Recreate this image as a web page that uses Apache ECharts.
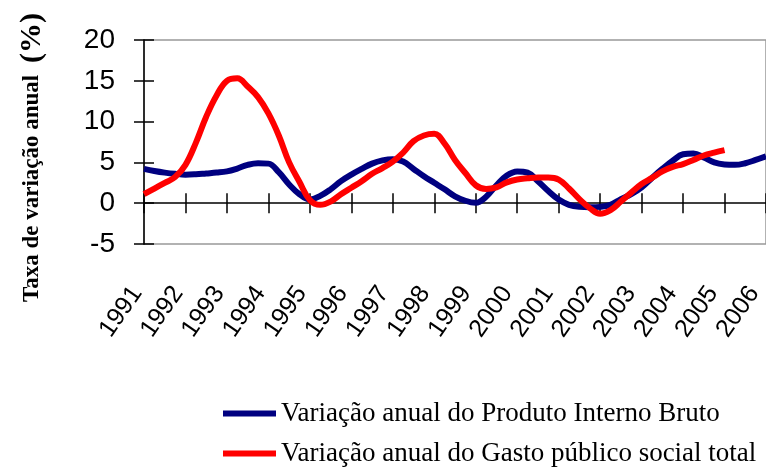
<!DOCTYPE html>
<html>
<head>
<meta charset="utf-8">
<script src="https://cdn.jsdelivr.net/npm/echarts@6/dist/echarts.min.js"></script>
<style>
  html, body { margin: 0; padding: 0; background: #fff; }
  #chart { width: 766px; height: 467px; }
</style>
</head>
<body>
<div id="chart"></div>
<script>
// períodos trimestrais (ano + fração)
const periodos = [
  1991.00, 1991.25, 1991.50, 1991.75, 1992.00, 1992.25, 1992.50, 1992.75,
  1993.00, 1993.25, 1993.50, 1993.75, 1994.00, 1994.25, 1994.50, 1994.75,
  1995.00, 1995.25, 1995.50, 1995.75, 1996.00, 1996.25, 1996.50, 1996.75,
  1997.00, 1997.25, 1997.50, 1997.75, 1998.00, 1998.25, 1998.50, 1998.75,
  1999.00, 1999.25, 1999.50, 1999.75, 2000.00, 2000.25, 2000.50, 2000.75,
  2001.00, 2001.25, 2001.50, 2001.75, 2002.00, 2002.25, 2002.50, 2002.75,
  2003.00, 2003.25, 2003.50, 2003.75, 2004.00, 2004.25, 2004.50, 2004.75,
  2005.00, 2005.25, 2005.50, 2005.75, 2006.00,
]

// Variação anual do PIB
const pib = [
  4.2, 3.95, 3.75, 3.6, 3.5, 3.55, 3.65, 3.75,
  3.9, 4.25, 4.7, 4.9, 4.85, 3.8, 2.3, 1.1,
  0.45, 0.9, 1.7, 2.7, 3.5, 4.2, 4.85, 5.25,
  5.4, 5.1, 4.2, 3.3, 2.5, 1.7, 0.85, 0.3,
  0.05, 0.8, 2.2, 3.4, 3.9, 3.75, 2.7, 1.5,
  0.45, -0.2, -0.45, -0.5, -0.45, -0.2, 0.5, 1.1,
  1.95, 3.1, 4.2, 5.2, 6.0, 6.1, 5.6, 5.0,
  4.75, 4.7, 4.9, 5.3, 5.75,
]

// Variação anual do gasto público social (termina em 2005)
const gasto = [
  1.1, 1.8, 2.5, 3.2, 4.7, 7.4, 10.6, 13.2,
  15.0, 15.3, 14.3, 13.0, 11.0, 8.3, 5.0, 2.6,
  0.4, -0.2, 0.2, 1.1, 1.9, 2.7, 3.6, 4.3,
  5.1, 6.2, 7.6, 8.3, 8.5, 7.3, 5.3, 3.7,
  2.2, 1.75, 1.95, 2.55, 2.9, 3.05, 3.15, 3.15,
  2.9, 1.8, 0.5, -0.6, -1.3, -0.85, 0.2, 1.3,
  2.35, 3.1, 3.9, 4.45, 4.8, 5.3, 5.85, 6.2,
  6.5,
]

const anos = ['1991', '1992', '1993', '1994', '1995', '1996', '1997', '1998',
  '1999', '2000', '2001', '2002', '2003', '2004', '2005', '2006']

const nomes = ['Variação anual do Produto Interno Bruto', 'Variação anual do Gasto público social total']

const toPairs = vals => vals.map((v, i) => [periodos[i], v])

const chart = echarts.init(document.getElementById('chart'), null, { renderer: 'canvas' })

const tickStyle = { color: '#000', width: 1.5 }

// uma legenda por linha, para não quebrar em colunas
const legendBase = {
  orient: 'vertical',
  left: 223,
  padding: 0,
  icon: 'rect',
  itemWidth: 53,
  itemHeight: 6,
  textStyle: { fontFamily: 'Liberation Serif', fontSize: 27, color: '#000' },
}

const option = {
  animation: false,
  backgroundColor: '#fff',
  grid: [
    // área do gráfico (a borda direita fica fora da imagem)
    { left: 144, top: 40, width: 627.75, height: 204, show: true, borderColor: '#999', borderWidth: 1.5 },
    // faixa só para os rótulos dos anos
    { left: 137, top: 244, width: 633, height: 1 },
  ],
  xAxis: [
    {
      type: 'value', gridIndex: 0, position: 'bottom', min: 1991, max: 2006, interval: 1,
      axisLine: { onZero: true, lineStyle: tickStyle },
      axisTick: { show: true, length: 10, lineStyle: tickStyle },
      axisLabel: { show: false },
      splitLine: { show: false },
    },
    {
      type: 'value', gridIndex: 0, position: 'bottom', min: 1991, max: 2006, interval: 1,
      axisLine: { onZero: true, show: false },
      axisTick: { show: true, inside: true, length: 10, lineStyle: tickStyle },
      axisLabel: { show: false },
      splitLine: { show: false },
    },
    {
      type: 'category', gridIndex: 1, data: anos, boundaryGap: false,
      axisLine: { show: false },
      axisTick: { show: false },
      axisLabel: {
        rotate: 55, margin: 44, interval: 0,
        fontFamily: 'Liberation Sans', fontSize: 25, color: '#000',
      },
    },
  ],
  yAxis: [
    {
      type: 'value', gridIndex: 0, position: 'left', min: -5, max: 20, interval: 5,
      axisLine: { show: true, lineStyle: tickStyle },
      axisTick: { show: true, length: 10, lineStyle: tickStyle },
      axisLabel: { margin: 29, fontFamily: 'Liberation Sans', fontSize: 28, color: '#000' },
      splitLine: { show: false },
    },
    {
      type: 'value', gridIndex: 0, position: 'left', min: -5, max: 20, interval: 5,
      axisLine: { show: false },
      axisTick: { show: true, inside: true, length: 10, lineStyle: tickStyle },
      axisLabel: { show: false },
      splitLine: { show: false },
    },
    { type: 'value', gridIndex: 1, show: false },
  ],
  legend: [
    { ...legendBase, top: 400, data: [nomes[0]] },
    { ...legendBase, top: 440, data: [nomes[1]] },
  ],
  graphic: [
    {
      type: 'text',
      x: 32,
      y: 302,
      rotation: Math.PI / 2,
      style: {
        text: 'Taxa de variação anual',
        font: 'bold 23px "Liberation Serif"',
        fill: '#000',
        align: 'left',
        verticalAlign: 'middle',
      },
    },
    {
      type: 'text',
      x: 32,
      y: 63,
      rotation: Math.PI / 2,
      style: {
        text: '(%)',
        font: 'bold 30px "Liberation Serif"',
        fill: '#000',
        align: 'left',
        verticalAlign: 'middle',
      },
    },
  ],
  series: [
    {
      name: nomes[0],
      type: 'line',
      xAxisIndex: 0,
      yAxisIndex: 0,
      data: toPairs(pib),
      smooth: 0.4,
      showSymbol: false,
      lineStyle: { color: '#000080', width: 6 },
      itemStyle: { color: '#000080' },
    },
    {
      name: nomes[1],
      type: 'line',
      xAxisIndex: 0,
      yAxisIndex: 0,
      data: toPairs(gasto),
      smooth: 0.4,
      showSymbol: false,
      lineStyle: { color: '#ff0000', width: 6 },
      itemStyle: { color: '#ff0000' },
    },
  ],
}

chart.setOption(option)
</script>
</body>
</html>
